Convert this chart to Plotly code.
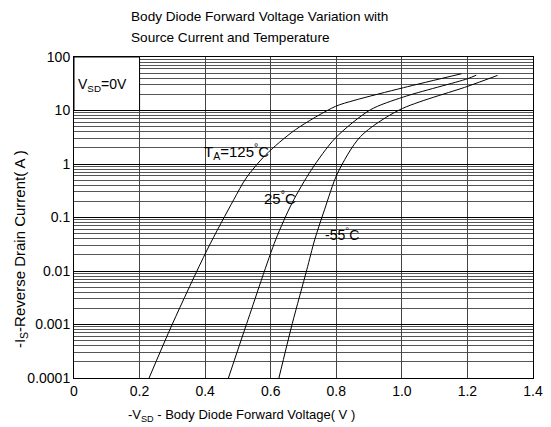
import plotly.graph_objects as go

# Data (x: -V_SD in volts, y: -I_S in amps)
x_125 = [0.229, 0.300, 0.406, 0.487, 0.525, 0.585, 0.675, 0.797, 0.854, 1.005, 1.182]
y_125 = [1e-4, 1.02e-3, 0.0248, 0.214, 0.545, 1.49, 4.36, 11.9, 15.4, 26.7, 48.7]

x_25 = [0.471, 0.527, 0.615, 0.665, 0.724, 0.797, 0.904, 1.005, 1.200, 1.227]
y_25 = [1e-4, 1.05e-3, 0.0382, 0.186, 0.778, 3.05, 10.3, 17.9, 39.2, 45.7]

x_m55 = [0.625, 0.666, 0.710, 0.734, 0.764, 0.804, 0.874, 0.993, 1.200, 1.292]
y_m55 = [1e-4, 1.05e-3, 0.0105, 0.0382, 0.139, 0.676, 3.27, 10.3, 28.2, 45.3]

x_ticks = [0, 0.2, 0.4, 0.6, 0.8, 1.0, 1.2, 1.4]
x_tick_labels = ["0", "0.2", "0.4", "0.6", "0.8", "1.0", "1.2", "1.4"]
y_ticks = [1e-4, 1e-3, 1e-2, 1e-1, 1, 10, 100]
y_tick_labels = ["0.0001", "0.001", "0.01", "0.1", "1", "10", "100"]

FONT = "Liberation Sans, Arial, sans-serif"

fig = go.Figure()
for xs, ys in [(x_125, y_125), (x_25, y_25), (x_m55, y_m55)]:
    fig.add_trace(go.Scatter(x=xs, y=ys, mode="lines",
                             line=dict(color="black", width=1, shape="spline", smoothing=0.8),
                             showlegend=False, hoverinfo="skip"))

fig.update_layout(
    width=551, height=427,
    margin=dict(l=74, r=8, t=57, b=49),
    paper_bgcolor="white", plot_bgcolor="white",
    font=dict(family=FONT, color="black", size=14),
)

fig.update_xaxes(
    range=[0, 1.4], tickvals=x_ticks, ticktext=x_tick_labels,
    showgrid=True, gridcolor="#444", gridwidth=1,
    showline=True, linecolor="black", linewidth=1, mirror=True,
    ticks="", zeroline=False, tickfont=dict(size=14), ticklabeloverflow="allow",
)
fig.update_yaxes(
    type="log", range=[-4, 2], tickvals=y_ticks, ticktext=y_tick_labels,
    showgrid=True, gridcolor="black", gridwidth=1,
    minor=dict(showgrid=True, gridcolor="#555", gridwidth=1, dtick="D1"),
    showline=True, linecolor="black", linewidth=1, mirror=True,
    ticks="", zeroline=False, tickfont=dict(size=14), ticklabeloverflow="allow",
)

# white legend box in the upper-left corner
fig.add_shape(type="rect", xref="x", yref="y", x0=0, x1=0.2, y0=10, y1=100,
              fillcolor="white", line=dict(color="black", width=1), layer="above")

# title lines
fig.add_annotation(xref="paper", yref="paper", x=0.1194, y=1.1257, xanchor="left", yanchor="middle",
                   text="Body Diode Forward Voltage Variation with", showarrow=False,
                   font=dict(size=13.6))
fig.add_annotation(xref="paper", yref="paper", x=0.1194, y=1.0617, xanchor="left", yanchor="middle",
                   text="Source Current and Temperature", showarrow=False,
                   font=dict(size=13.6))
# axis titles
fig.add_annotation(xref="paper", yref="paper", x=0.3646, y=-0.1154, xanchor="center", yanchor="middle",
                   text="-V<sub>SD</sub> - Body Diode Forward Voltage( V )", showarrow=False,
                   font=dict(size=13))
fig.add_annotation(xref="paper", yref="paper", x=-0.1151, y=0.4022, xanchor="center", yanchor="middle",
                   textangle=-90, text="-I<sub>S</sub>-Reverse Drain Current( A )", showarrow=False,
                   font=dict(size=15))

# in-plot labels (annotation y on a log axis is given as log10)
fig.add_annotation(x=0.006, y=1.48, xref="x", yref="y", xanchor="left",
                   text="V<sub>SD</sub>=0V", showarrow=False, font=dict(size=14))
fig.add_annotation(x=(205 - 74) / 335, y=0.234, xref="x", yref="y", xanchor="left",
                   text="T<sub>A</sub>=125<sup>°</sup>C", showarrow=False, font=dict(size=15))
fig.add_annotation(x=(266 - 74) / 335, y=-0.62, xref="x", yref="y", xanchor="left",
                   text="25<sup>°</sup>C", showarrow=False, font=dict(size=15))
fig.add_annotation(x=(328 - 74) / 335, y=-1.315, xref="x", yref="y", xanchor="left",
                   text="-55<sup>°</sup>C", showarrow=False, font=dict(size=14))

fig.write_html("out.html", config={"displayModeBar": False},
               post_script="document.body.style.margin='0px';")
